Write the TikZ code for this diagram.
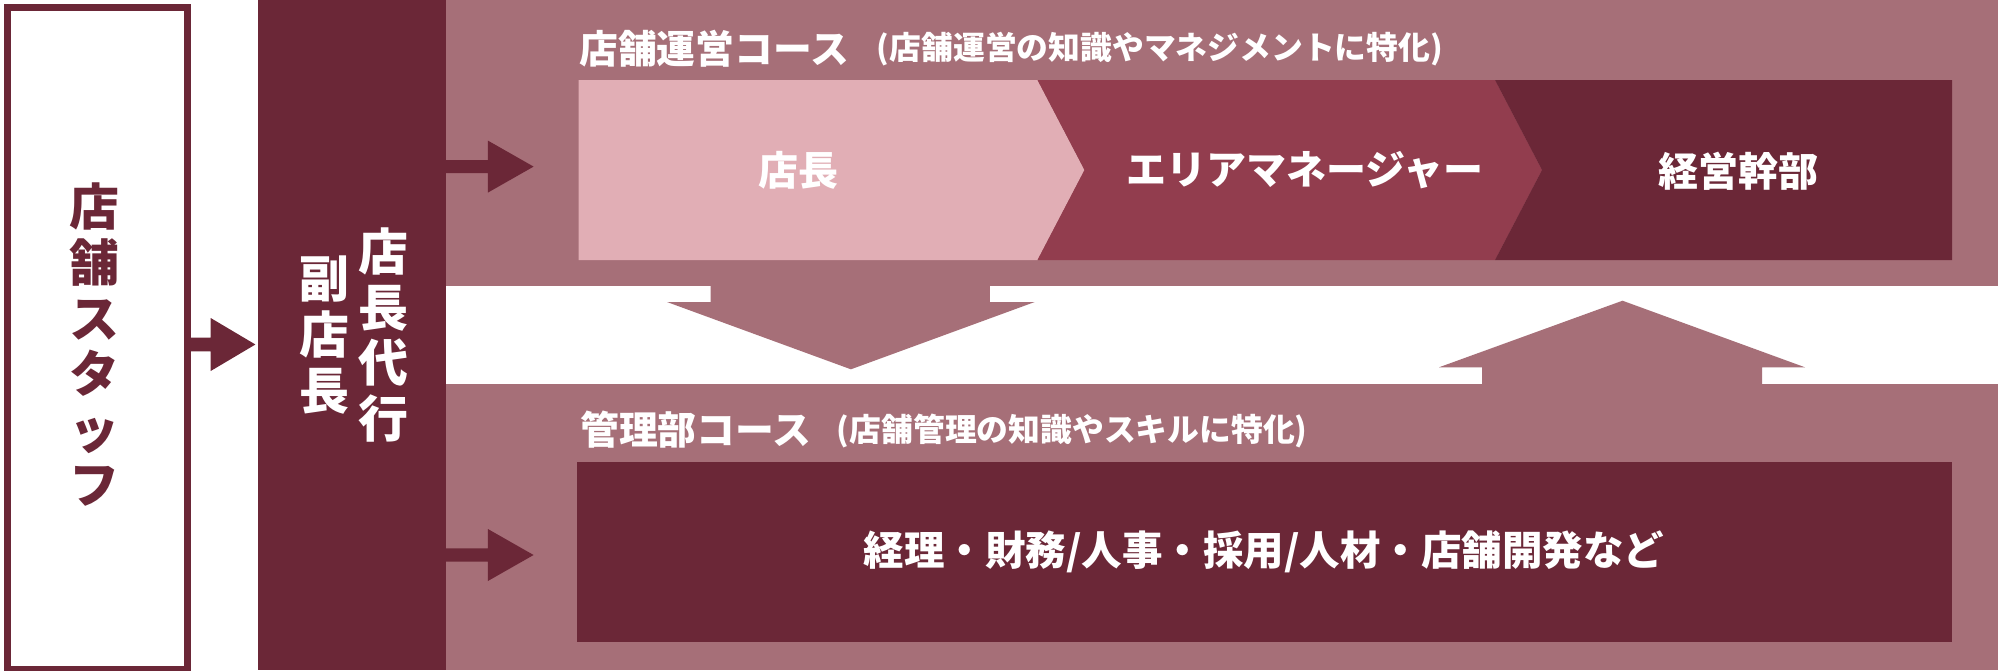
\documentclass[tikz,border=0pt]{standalone}
\usepackage{fontspec}
\setmainfont{Noto Sans CJK JP}
\definecolor{dk}{HTML}{6B2737}
\definecolor{bgp}{HTML}{A66F78}
\definecolor{lt}{HTML}{E1AEB5}
\definecolor{md}{HTML}{923D4E}
\begin{document}
\begin{tikzpicture}[x=1pt,y=-1pt,
  lbl/.style={inner sep=0pt, font=\bfseries\fontsize{40}{40}\selectfont, text=white},
  vtext/.style={inner sep=0pt, align=center, font=\bfseries\fontsize{50}{55.6}\selectfont},
  ttl/.style={inner sep=0pt, anchor=west, text=white, font=\bfseries\fontsize{38.8}{38.8}\selectfont},
  sub/.style={inner sep=0pt, anchor=west, text=white, font=\bfseries\fontsize{31.8}{31.8}\selectfont},
]
\useasboundingbox (0,0) rectangle (1998,670);
% course background with white band
\fill[bgp] (445.7,0) rectangle (1998,670);
\fill[white] (445.7,286) rectangle (1998,384);
% left box
\node[draw=dk, line width=7.5pt, fill=white, minimum width=180pt, minimum height=662pt,
      anchor=north west, inner sep=0pt] (staff) at (3.75,3.75) {};
\node[vtext, text=dk] (stafftxt) at (94.5,345) {店\\舗\\ス\\タ\\ッ\\フ};
% dark column
\node[fill=dk, minimum width=187.8pt, minimum height=670pt, anchor=north west, inner sep=0pt] (vice) at (257.9,0) {};
\node[vtext, text=white] (vice1) at (383,335) {店\\長\\代\\行};
\node[vtext, text=white] (vice2) at (324,335) {副\\店\\長};
% arrow staff -> vice
\coordinate (a1) at (187.5,344.5);
\fill[dk] (a1) ++(0,-6.85) -- ++(23.2,0) -- ++(0,-19.65) -- ++(44.7,26.5) -- ++(-44.7,26.5) -- ++(0,-19.65) -- ++(-23.2,0) -- cycle;
% arrows vice -> courses
\coordinate (a2) at (445.7,166.6);
\coordinate (a3) at (445.7,555);
\foreach \c in {a2,a3}{
  \fill[dk] (\c) ++(0,-6.6) -- ++(42.2,0) -- ++(0,-19.4) -- ++(45.7,26) -- ++(-45.7,26) -- ++(0,-19.4) -- ++(-42.2,0) -- cycle;
}
% titles
\node[ttl] (t1) at (579,48.3) {店舗運営コース};
\node[sub] (t1s) at (876.7,49) {(店舗運営の知識やマネジメントに特化)};
\node[ttl] (t2) at (580,430) {管理部コース};
\node[sub] (t2s) at (836.7,431) {(店舗管理の知識やスキルに特化)};
% chevrons
\fill[lt] (578.7,80) -- (1037.5,80) -- (1084.5,170) -- (1037.5,260) -- (578.7,260) -- cycle;
\fill[md] (1037.5,80) -- (1495,80) -- (1542,170) -- (1495,260) -- (1037.5,260) -- (1084.5,170) -- cycle;
\fill[dk] (1495,80) -- (1952,80) -- (1952,260) -- (1495,260) -- (1542,170) -- cycle;
\node[lbl] (c1) at (798,170.5) {店長};
\node[lbl] (c2) at (1305,170.5) {エリアマネージャー};
\node[lbl] (c3) at (1738,171) {経営幹部};
% down and up arrows in the white band
\fill[bgp] (710.6,286) -- (989.8,286) -- (989.8,302) -- (1034.7,302) -- (850.9,369.3) -- (667,302) -- (710.6,302) -- cycle;
\fill[bgp] (1482,384) -- (1482,367.3) -- (1439,367.3) -- (1622.5,300.7) -- (1805,367.3) -- (1762,367.3) -- (1762,384) -- cycle;
% management box
\node[fill=dk, minimum width=1375pt, minimum height=180pt, anchor=north west, inner sep=0pt] (mgmt) at (577,461.7) {};
\node[lbl, font=\bfseries\fontsize{40.5}{40.5}\selectfont] (mgmttxt) at (1264,552) {経理・財務/人事・採用/人材・店舗開発など};
\end{tikzpicture}
\end{document}
